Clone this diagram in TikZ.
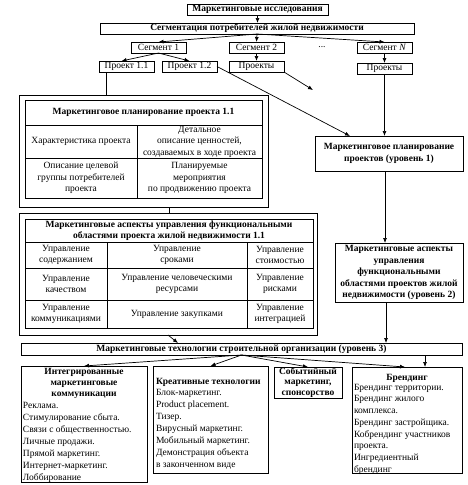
\documentclass[tikz,border=0pt]{standalone}
\usepackage{fontspec}
\setmainfont{Liberation Serif}
\usetikzlibrary{arrows.meta}
\newcommand\dfont{\fontsize{9.5}{11.5}\selectfont}
\newcommand\bfont{\fontsize{9.5}{12}\selectfont}
\begin{document}
\begin{tikzpicture}[x=1pt,y=-1pt,
  every node/.style={inner sep=0pt, outer sep=0pt},
  bx/.style={draw, line width=0.8pt, align=center, font=\dfont},
  bbx/.style={bx, font=\dfont\bfseries},
  cell/.style={draw, line width=0.7pt, align=center, font=\dfont},
  ln/.style={line width=0.7pt},
  arr/.style={line width=0.7pt, -{Latex[length=5pt,width=4pt]}},
  txt/.style={align=left, font=\bfont, anchor=north west},
  ttl/.style={align=center, font=\fontsize{9.5}{11}\selectfont\bfseries, anchor=north}]
\useasboundingbox (0,0) rectangle (468,485);

% top part
\node[bbx, minimum width=141pt, minimum height=11pt] (mi) at (257.5,9.5) {Маркетинговые исследования};
\node[bbx, minimum width=314pt, minimum height=11pt] (seg) at (257,28.5) {Сегментация потребителей жилой недвижимости};
\node[bx, minimum width=55pt, minimum height=11pt] (s1) at (158.5,47.5) {Сегмент 1};
\node[bx, minimum width=55pt, minimum height=11pt] (s2) at (256.5,47.5) {Сегмент 2};
\node[font=\dfont] (dots) at (322,47) {...};
\node[bx, minimum width=55pt, minimum height=11pt] (sN) at (384.5,47.5) {Сегмент \textit{N}};
\node[bx, minimum width=55pt, minimum height=11pt] (p11) at (126.5,66.5) {Проект 1.1};
\node[bx, minimum width=55pt, minimum height=11pt] (p12) at (189.5,66.5) {Проект 1.2};
\node[bx, minimum width=55pt, minimum height=11pt] (ps2) at (256.5,66.5) {Проекты};
\node[bx, minimum width=55pt, minimum height=11pt] (psN) at (384.5,68.5) {Проекты};

% right column
\node[bbx, minimum width=148pt, minimum height=35pt] (L1) at (389,153.5) {Маркетинговое планирование\\проектов (уровень 1)};
\node[bbx, minimum width=128pt, minimum height=59pt] (L2) at (399,272.5) {Маркетинговые аспекты\\управления\\функциональными\\областями проектов жилой\\недвижимости (уровень 2)};
\node[bbx, minimum width=441pt, minimum height=12pt] (L3) at (241.5,349) {Маркетинговые технологии строительной организации (уровень 3)};

% table 1
\node[draw, line width=0.8pt, minimum width=249pt, minimum height=112pt] (o1) at (143.5,151) {};
\node[cell, minimum width=237pt, minimum height=25pt, font=\dfont\bfseries] (t1h) at (143.5,112.5) {Маркетинговое планирование проекта 1.1};
\node[cell, minimum width=112pt, minimum height=33pt] (t1a) at (81,141.5) {Характеристика проекта};
\node[cell, minimum width=125pt, minimum height=33pt] (t1b) at (199.5,141.5) {Детальное\\описание ценностей,\\создаваемых в ходе проекта};
\node[cell, minimum width=112pt, minimum height=40pt] (t1c) at (81,178) {Описание целевой\\группы потребителей\\проекта};
\node[cell, minimum width=125pt, minimum height=40pt] (t1d) at (199.5,178) {Планируемые\\мероприятия\\по продвижению проекта};

% table 2
\node[draw, line width=0.8pt, minimum width=298pt, minimum height=122pt] (o2) at (168,274) {};
\node[cell, minimum width=288pt, minimum height=23pt, font=\dfont\bfseries] (t2h) at (169,230.5) {Маркетинговые аспекты управления функциональными\\областями проекта жилой недвижимости 1.1};
\node[cell, minimum width=82pt, minimum height=26pt] (t2a) at (66,255) {Управление\\содержанием};
\node[cell, minimum width=140pt, minimum height=26pt] (t2b) at (177,255) {Управление\\сроками};
\node[cell, minimum width=66pt, minimum height=26pt] (t2c) at (280,255) {Управление\\стоимостью};
\node[cell, minimum width=82pt, minimum height=32pt] (t2d) at (66,284) {Управление\\качеством};
\node[cell, minimum width=140pt, minimum height=32pt] (t2e) at (177,284) {Управление человеческими\\ресурсами};
\node[cell, minimum width=66pt, minimum height=32pt] (t2f) at (280,284) {Управление\\рисками};
\node[cell, minimum width=82pt, minimum height=28pt] (t2g) at (66,314) {Управление\\коммуникациями};
\node[cell, minimum width=140pt, minimum height=28pt] (t2h2) at (177,314) {Управление закупками};
\node[cell, minimum width=66pt, minimum height=28pt] (t2i) at (280,314) {Управление\\интеграцией};

% bottom boxes
\node[draw, line width=0.8pt, minimum width=126pt, minimum height=116pt] (A) at (84,424) {};
\node[ttl] (At) at (84,368) {Интегрированные\\маркетинговые\\коммуникации};
\node[txt] (Ai) at (23,402) {Реклама.\\Стимулирование сбыта.\\Связи с общественностью.\\Личные продажи.\\Прямой маркетинг.\\Интернет-маркетинг.\\Лоббирование};

\node[draw, line width=0.8pt, minimum width=115pt, minimum height=107pt] (B) at (210.5,419.5) {};
\node[ttl, anchor=north west] (Bt) at (156,378) {Креативные технологии};
\node[txt] (Bi) at (156,389) {Блок-маркетинг.\\Product placement.\\Тизер.\\Вирусный маркетинг.\\Мобильный маркетинг.\\Демонстрация объекта\\в законченном виде};

\node[bbx, minimum width=68pt, minimum height=31pt, font=\fontsize{9.5}{10.5}\selectfont\bfseries] (C) at (308,382.5) {Событийный\\маркетинг,\\спонсорство};

\node[draw, line width=0.8pt, minimum width=110pt, minimum height=106pt] (D) at (407,420) {};
\node[ttl] (Dt) at (407,374) {Брендинг};
\node[txt, font=\fontsize{9.5}{11.7}\selectfont] (Di) at (354,384) {Брендинг территории.\\Брендинг жилого\\комплекса.\\Брендинг застройщика.\\Кобрендинг участников\\проекта.\\Ингредиентный\\брендинг};

% coordinates
\coordinate (ps2end) at (313,90);
\coordinate (l1a) at (350,136);
\coordinate (dv) at (425,367);

% connectors
\draw[arr] (mi.south) -- (mi.south |- seg.north);
\draw[arr] (seg.south) -- (s1.north);
\draw[arr] (seg.south) -- (s2.north);
\draw[arr] (seg.south) -- (sN.north);
\draw[arr] (s1.south) -- ([xshift=-5pt]p11.north);
\draw[arr] (s1.south) -- (p12.north);
\draw[arr] (s2.south) -- (ps2.north);
\draw[arr] (sN.south) -- (psN.north);
\draw[arr] (ps2.south east) -- (ps2end);
\draw[arr] (p12.east) -- (l1a);
\draw[arr] (psN.south) -- (psN.south |- L1.north);
\draw[arr] ([xshift=-4pt]L1.south) -- ([xshift=-4pt]L1.south |- L2.north);
\draw[arr] ([xshift=-13pt]L2.south) -- ([xshift=-13pt]L2.south |- L3.north);
\draw[ln] ([xshift=-20pt]p11.south) -- ([xshift=-20pt]p11.south |- o1.north);
\draw[ln] ([xshift=25.5pt]o1.south) -- ([xshift=25.5pt]o1.south |- o2.north);
\draw[arr] (o2.south) -- ([xshift=-63.5pt]L3.north);
\draw[arr] (L3.south) -- (A.north);
\draw[arr] (L3.south) -- (B.north);
\draw[arr] (L3.south) -- (C.north);
\draw[arr] (L3.south) -- ([xshift=-2pt]D.north);
\draw[arr] (dv |- L3.south) -- (dv);
\end{tikzpicture}
\end{document}
